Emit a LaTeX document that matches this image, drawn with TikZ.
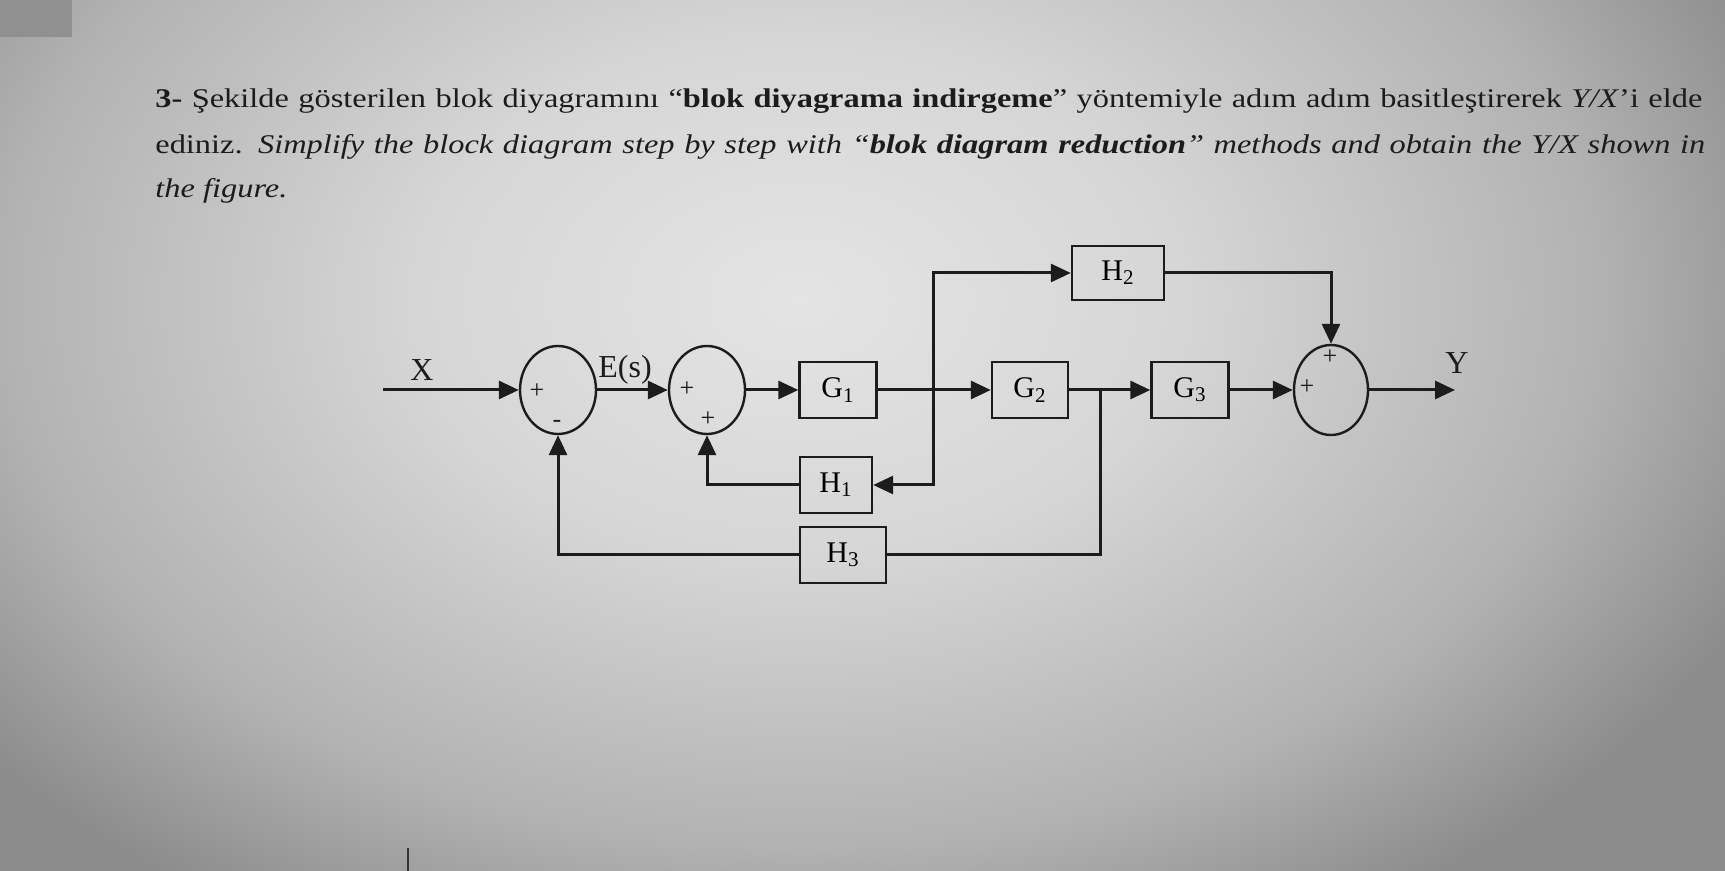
\documentclass[tikz,border=0pt]{standalone}
\usepackage{fontspec}
\setmainfont{Liberation Serif}
\newfontfamily\qfont[FakeStretch=1.2]{Liberation Serif}
\usetikzlibrary{arrows.meta,shapes.geometric}

\definecolor{bgin}{RGB}{228,228,228}
\definecolor{bgmid}{RGB}{214,214,214}
\definecolor{bgdim}{RGB}{178,178,178}
\definecolor{bgout}{RGB}{140,140,140}
\definecolor{ink}{RGB}{28,28,28}
\pgfdeclareradialshading{vignette}{\pgfpoint{0bp}{0bp}}{color(0bp)=(bgin); color(9bp)=(bgmid); color(19bp)=(bgdim); color(25bp)=(bgout); color(50bp)=(bgout)}

\tikzset{
  blk/.style={draw=ink, line width=1.2pt, inner sep=0pt, minimum height=28pt, font=\fontsize{15}{15}\selectfont},
  sumj/.style={draw=ink, ellipse, line width=1.2pt, inner sep=0pt, minimum width=38pt, minimum height=44pt},
  sig/.style={draw=ink, line width=1.5pt, -{Triangle[length=10pt,width=9pt]}},
  wire/.style={draw=ink, line width=1.5pt},
  sgn/.style={font=\fontsize{13}{13}\selectfont, inner sep=0pt, text=ink},
  lbl/.style={font=\fontsize{16}{16}\selectfont, inner sep=0pt, text=ink},
  txt/.style={anchor=base west, inner sep=0pt, text=ink, font=\qfont\fontsize{13.5}{13.5}\selectfont}
}

\begin{document}
\begin{tikzpicture}[x=0.5pt,y=-0.5pt]
\useasboundingbox (0,0) rectangle (1725,871);
% background
\fill[bgout] (0,0) rectangle (1725,871);
\begin{scope}
\clip (0,0) rectangle (1725,871);
\shade[shading=vignette] (800,300) ellipse [x radius=1050, y radius=720];
\end{scope}
\fill[gray!75!black!70] (0,0) rectangle (72,37);
\draw[line width=1pt, gray!40!black] (408,848) -- (408,871);

% question
\node[txt] (q1) at (155,108) {\makebox[773.5pt][s]{\textbf{3-} Şekilde gösterilen blok diyagramını “\textbf{blok diyagrama indirgeme}” yöntemiyle adım adım basitleştirerek \textit{Y/X}’i elde}};
\node[txt] (q2) at (155,154) {\makebox[775pt][s]{ediniz. \textit{Simplify the block diagram step by step with “\textbf{blok diagram reduction}” methods and obtain the Y/X shown in}}};
\node[txt] (q3) at (155,198) {\textit{the figure.}};

% blocks
\node[sumj] (s1) at (558,390) {};
\node[sumj] (s2) at (707,390) {};
\node[blk, minimum width=38.5pt] (G1) at (838,390) {G\textsubscript{1}};
\node[blk, minimum width=38pt] (G2) at (1030,390) {G\textsubscript{2}};
\node[blk, minimum width=38.5pt] (G3) at (1190,390) {G\textsubscript{3}};
\node[sumj, minimum width=37pt, minimum height=45pt] (s3) at (1331,390) {};
\node[blk, minimum width=46pt, minimum height=27pt] (H2) at (1118,273) {H\textsubscript{2}};
\node[blk, minimum width=36pt] (H1) at (836,485) {H\textsubscript{1}};
\node[blk, minimum width=43pt] (H3) at (843,555) {H\textsubscript{3}};

\coordinate (xin) at (383,390);
\coordinate (yout) at (1455,390);
\coordinate (b1) at (933,390);
\coordinate (b2) at (1100,390);

% signs and labels
\node[sgn] at (537,391) {+};
\node[sgn] at (557,424) {-};
\node[sgn] at (687,389) {+};
\node[sgn] at (708,419) {+};
\node[sgn] at (1330,357) {+};
\node[sgn] at (1307,387) {+};
\node[lbl] (X) at (422,370) {X};
\node[lbl] (E) at (625,370) {E(s)};
\node[lbl] (Y) at (1457,363) {Y};

% connectors
\draw[sig] (xin) -- (s1);
\draw[sig] (s1) -- (s2);
\draw[sig] (s2) -- (G1);
\draw[sig] (G1) -- (G2);
\draw[sig] (G2) -- (G3);
\draw[sig] (G3) -- (s3);
\draw[sig] (s3) -- (yout);
\draw[sig] (b1) |- (H2);
\draw[sig] (b1) |- (H1);
\draw[sig] (H2) -| (s3);
\draw[sig] (H1) -| (s2);
\draw[wire] (b2) |- (H3);
\draw[sig] (H3) -| (s1);
\end{tikzpicture}
\end{document}
